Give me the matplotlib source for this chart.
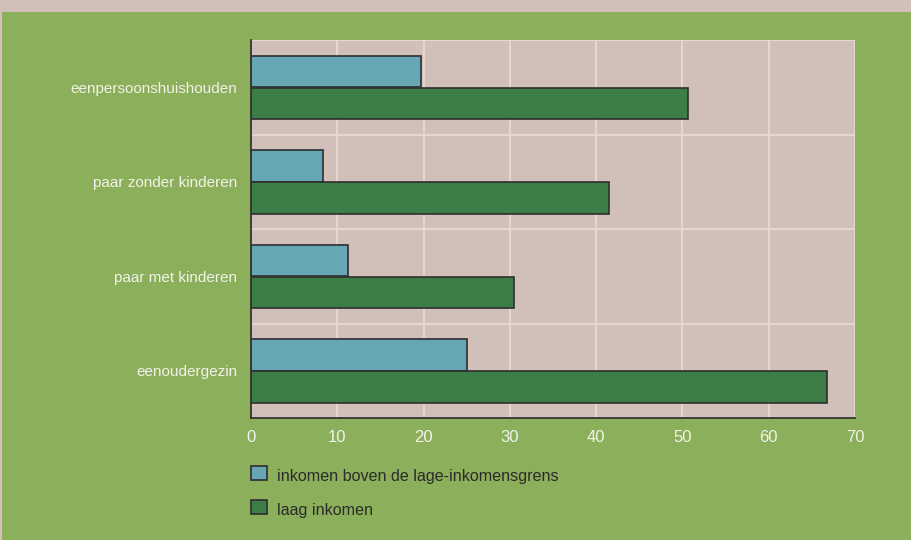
import matplotlib.pyplot as plt
import numpy as np
from matplotlib.patches import Rectangle

# Gegevens
categorieen = [
    "eenpersoonshuishouden",
    "paar zonder kinderen",
    "paar met kinderen",
    "eenoudergezin",
]
boven_grens = [19.7, 8.3, 11.2, 25.0]
laag_inkomen = [50.6, 41.5, 30.5, 66.7]
reeksnamen = ["inkomen boven de lage-inkomensgrens", "laag inkomen"]
x_ticks = [0, 10, 20, 30, 40, 50, 60, 70]

KLEUR_ACHTERGROND = "#8BAF5A"
KLEUR_PLOT = "#D1C0B9"
KLEUR_BLAUW = "#66A6B5"
KLEUR_GROEN = "#3D7D47"
KLEUR_RASTER = "#E6DAD3"
KLEUR_TEKST_LICHT = "#F2F2EA"
KLEUR_TEKST_DONKER = "#2B2B2B"

plt.rcParams["font.family"] = ["Liberation Sans", "DejaVu Sans"]


def main() -> None:
    fig = plt.figure(figsize=(9.11, 5.40), dpi=100, facecolor=KLEUR_ACHTERGROND)

    # Lichte strook bovenaan en links
    fig.patches.append(Rectangle((0, 1 - 12 / 540), 1, 12 / 540, transform=fig.transFigure,
                                 facecolor=KLEUR_PLOT, edgecolor="none", zorder=0))
    fig.patches.append(Rectangle((0, 0), 2 / 911, 1, transform=fig.transFigure,
                                 facecolor=KLEUR_PLOT, edgecolor="none", zorder=0))

    ax = fig.add_axes([251 / 911, 1 - 418 / 540, (855 - 251) / 911, (418 - 40) / 540])
    ax.set_facecolor(KLEUR_PLOT)

    y = np.arange(len(categorieen))
    hoogte = 0.335
    ax.barh(y - 0.165, boven_grens, height=hoogte, color=KLEUR_BLAUW,
            edgecolor="#2E2E2E", linewidth=1.2, zorder=3, label=reeksnamen[0])
    ax.barh(y + 0.172, laag_inkomen, height=hoogte, color=KLEUR_GROEN,
            edgecolor="#2E2E2E", linewidth=1.2, zorder=3, label=reeksnamen[1])

    ax.set_xlim(0, 70)
    ax.set_ylim(len(categorieen) - 0.5, -0.5)

    ax.set_xticks(x_ticks)
    ax.set_xticklabels([str(t) for t in x_ticks], color=KLEUR_TEKST_LICHT, fontsize=12)
    ax.set_yticks(y)
    ax.set_yticklabels(categorieen, color=KLEUR_TEKST_LICHT, fontsize=11)
    ax.set_yticks(np.arange(-0.5, len(categorieen) + 0.5, 1.0), minor=True)

    ax.tick_params(axis="x", length=0, pad=9)
    ax.tick_params(axis="y", which="both", length=0, pad=10)

    ax.grid(axis="x", which="major", color=KLEUR_RASTER, linewidth=1.3, zorder=1)
    ax.grid(axis="y", which="minor", color=KLEUR_RASTER, linewidth=1.3, zorder=1)
    ax.set_axisbelow(True)

    for kant in ("top", "right"):
        ax.spines[kant].set_visible(False)
    for kant in ("left", "bottom"):
        ax.spines[kant].set_color("#333333")
        ax.spines[kant].set_linewidth(1.3)
        ax.spines[kant].set_zorder(4)

    # Legenda
    for i, (naam, kleur) in enumerate(zip(reeksnamen, [KLEUR_BLAUW, KLEUR_GROEN])):
        y_px = 466 + i * 34
        fig.patches.append(Rectangle((251 / 911, 1 - (y_px + 14) / 540), 16 / 911, 14 / 540,
                                     transform=fig.transFigure, facecolor=kleur,
                                     edgecolor="#2E2E2E", linewidth=1.2))
        fig.text(277 / 911, 1 - (y_px + 11) / 540, naam, color=KLEUR_TEKST_DONKER,
                 fontsize=11.6, va="center", ha="left")

    fig.savefig("out.png", dpi=100, facecolor=fig.get_facecolor())
    plt.close(fig)


if __name__ == "__main__":
    main()
